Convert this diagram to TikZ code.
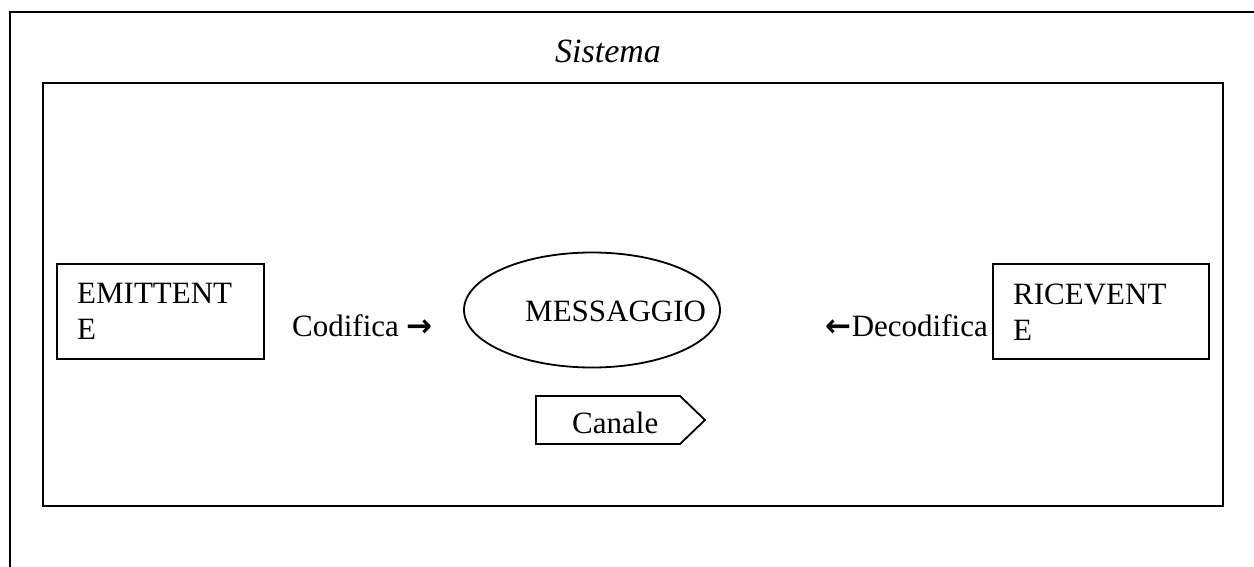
\documentclass[tikz,border=0pt]{standalone}
\usepackage{fontspec}
\setmainfont{Liberation Serif}
\newfontfamily\symfont{DejaVu Sans}
\usetikzlibrary{shapes.geometric}
\tikzset{
  boxline/.style={draw=black,line width=1.8pt,fill=white},
  txt/.style={inner sep=0pt,font=\fontsize{31}{36}\selectfont},
}
\begin{document}
\begin{tikzpicture}[x=1pt,y=-1pt]
\useasboundingbox (0,0) rectangle (1254,567);
\begin{scope}
\clip (0,0) rectangle (1254,567);
\node[boxline,minimum width=1260pt,minimum height=570pt,anchor=north west,inner sep=0pt] (frame) at (9,11) {};
\end{scope}
\node[txt,font=\fontsize{34}{40}\selectfont\itshape,anchor=base] (sistema) at (608,63) {Sistema};
\node[boxline,minimum width=1180pt,minimum height=423pt,anchor=north west,inner sep=0pt] (inner) at (42,82) {};
\node[boxline,minimum width=207pt,minimum height=95pt,anchor=north west,inner sep=0pt] (emb) at (56,263) {};
\node[txt,align=left,anchor=north west] (emt) at (77,283.5) {EMITTENT\\E};
\node[boxline,minimum width=216pt,minimum height=95pt,anchor=north west,inner sep=0pt] (rib) at (992,263) {};
\node[txt,align=left,anchor=north west] (rit) at (1013,283.5) {RICEVENT\\E};
\node[boxline,ellipse,minimum width=256pt,minimum height=115pt,inner sep=0pt] (msg) at (592,310) {};
\node[txt,anchor=base west] (msgt) at (525,321) {MESSAGGIO};
\node[txt,anchor=base west] (cod) at (292,336) {Codifica\hspace{8pt}{\symfont\bfseries →}};
\node[txt,anchor=base east] (dec) at (988,336) {{\symfont\bfseries ←}Decodifica};
\coordinate (c1) at (536,396);
\coordinate (c2) at (680,396);
\coordinate (c3) at (705,420);
\coordinate (c4) at (680,444);
\coordinate (c5) at (536,444);
\path[boxline] (c1) -- (c2) -- (c3) -- (c4) -- (c5) -- cycle;
\node[txt,anchor=base west] (can) at (572,433) {Canale};
\end{tikzpicture}
\end{document}
